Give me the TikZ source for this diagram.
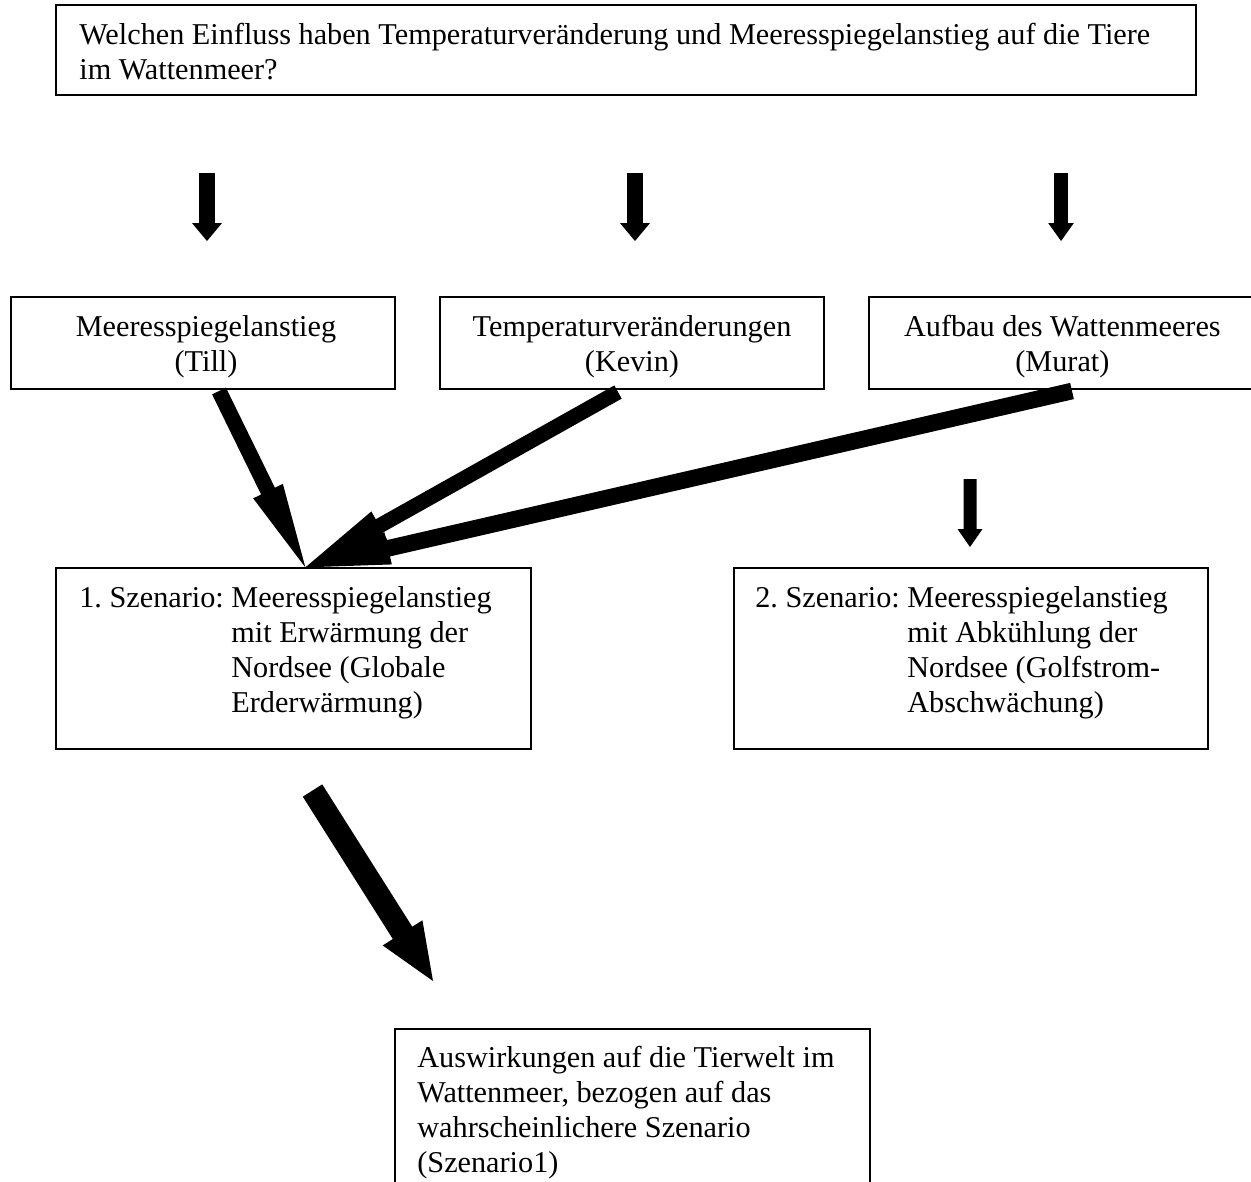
\documentclass[tikz,border=0pt]{standalone}
\usepackage{fontspec}
\setmainfont{Liberation Serif}
\usetikzlibrary{calc,fit}
\tikzset{
  box/.style={draw=black, line width=0.5pt, inner sep=0pt},
  txt/.style={inner sep=0pt, outer sep=0pt, font=\fontsize{12}{13.89}\selectfont\frenchspacing},
}
% block arrow: #1 tail, #2 tip, #3 half shaft, #4 half head, #5 head length
\newcommand\blk[5]{%
  \path ($(#2)!#5!(#1)$) coordinate (hb);
  \fill[black] ($(#1)!#3!90:(#2)$) -- ($(hb)!#3!90:(#2)$) -- ($(hb)!#4!90:(#2)$) -- (#2)
    -- ($(hb)!#4!-90:(#2)$) -- ($(hb)!#3!-90:(#2)$) -- ($(#1)!#3!-90:(#2)$) -- cycle;
}
\begin{document}
\begin{tikzpicture}[x=0.3968pt,y=-0.3968pt]
\fill[white] (0,0) rectangle (1251,1181);
\useasboundingbox (0,0) rectangle (1251,1181);

% boxes
\node[box, fit={(56,5)(1196,95)}] (q) {};
\node[box, fit={(11,297)(395,389)}] (m1) {};
\node[box, fit={(440,297)(824,389)}] (m2) {};
\node[box, fit={(869,297)(1258,389)}] (m3) {};
\node[box, fit={(56,568)(531,749)}] (s1) {};
\node[box, fit={(734,568)(1208,749)}] (s2) {};
\node[box, fit={(395,1029)(870,1195)}] (b) {};

% texts
\node[txt, anchor=base west] (qt) at ($(q.north west)+(24,40)$)
  {\begin{tabular}[t]{@{}l@{}}Welchen Einfluss haben Temperaturveränderung und Meeresspiegelanstieg auf die Tiere\\im Wattenmeer?\end{tabular}};
\node[txt, anchor=base] (m1t) at ($(m1.north)+(3,40)$)
  {\begin{tabular}[t]{@{}c@{}}Meeresspiegelanstieg\\(Till)\end{tabular}};
\node[txt, anchor=base] (m2t) at ($(m2.north)+(0,40)$)
  {\begin{tabular}[t]{@{}c@{}}Temperaturveränderungen\\(Kevin)\end{tabular}};
\node[txt, anchor=base] (m3t) at ($(m3.north west)+(194,40)$)
  {\begin{tabular}[t]{@{}c@{}}Aufbau des Wattenmeeres\\(Murat)\end{tabular}};
\node[txt, anchor=base west] (s1t) at ($(s1.north west)+(24,40)$)
  {\begin{tabular}[t]{@{}l@{\ }l@{}}1. Szenario:&Meeresspiegelanstieg\\&mit Erwärmung der\\&Nordsee (Globale\\&Erderwärmung)\end{tabular}};
\node[txt, anchor=base west] (s2t) at ($(s2.north west)+(22,40)$)
  {\begin{tabular}[t]{@{}l@{\ }l@{}}2. Szenario:&Meeresspiegelanstieg\\&mit Abkühlung der\\&Nordsee (Golfstrom-\\&Abschwächung)\end{tabular}};
\node[txt, anchor=base west] (bt) at ($(b.north west)+(23,39)$)
  {\begin{tabular}[t]{@{}l@{}}Auswirkungen auf die Tierwelt im\\Wattenmeer, bezogen auf das\\wahrscheinlichere Szenario\\(Szenario1)\end{tabular}};

% arrow end points
\coordinate (a1s) at (207,173); \coordinate (a1e) at (207,241);
\coordinate (a2s) at (635,173); \coordinate (a2e) at (635,241);
\coordinate (a3s) at (1061,173); \coordinate (a3e) at (1061,241);
\coordinate (a4s) at (970,479); \coordinate (a4e) at (970,547);
\coordinate (d1s) at (219,391);
\coordinate (d2s) at (618,392);
\coordinate (d3s) at (1072,391);
\coordinate (hit) at ($(s1.north west)+(250,0)$);
\coordinate (bs) at (312.5,790.5); \coordinate (be) at (433,981);

% arrows
\blk{a1s}{a1e}{3.17pt}{5.95pt}{7.14pt}
\blk{a2s}{a2e}{3.17pt}{5.95pt}{7.14pt}
\blk{a3s}{a3e}{2.7pt}{5.1pt}{7.14pt}
\blk{a4s}{a4e}{2.58pt}{4.96pt}{7.14pt}
\blk{d1s}{hit}{3.05pt}{6.55pt}{33.7pt}
\blk{d2s}{hit}{3.0pt}{6.55pt}{33.7pt}
\blk{d3s}{hit}{3.3pt}{6.55pt}{33.7pt}
\blk{bs}{be}{4.56pt}{9.33pt}{22.6pt}
\end{tikzpicture}
\end{document}
